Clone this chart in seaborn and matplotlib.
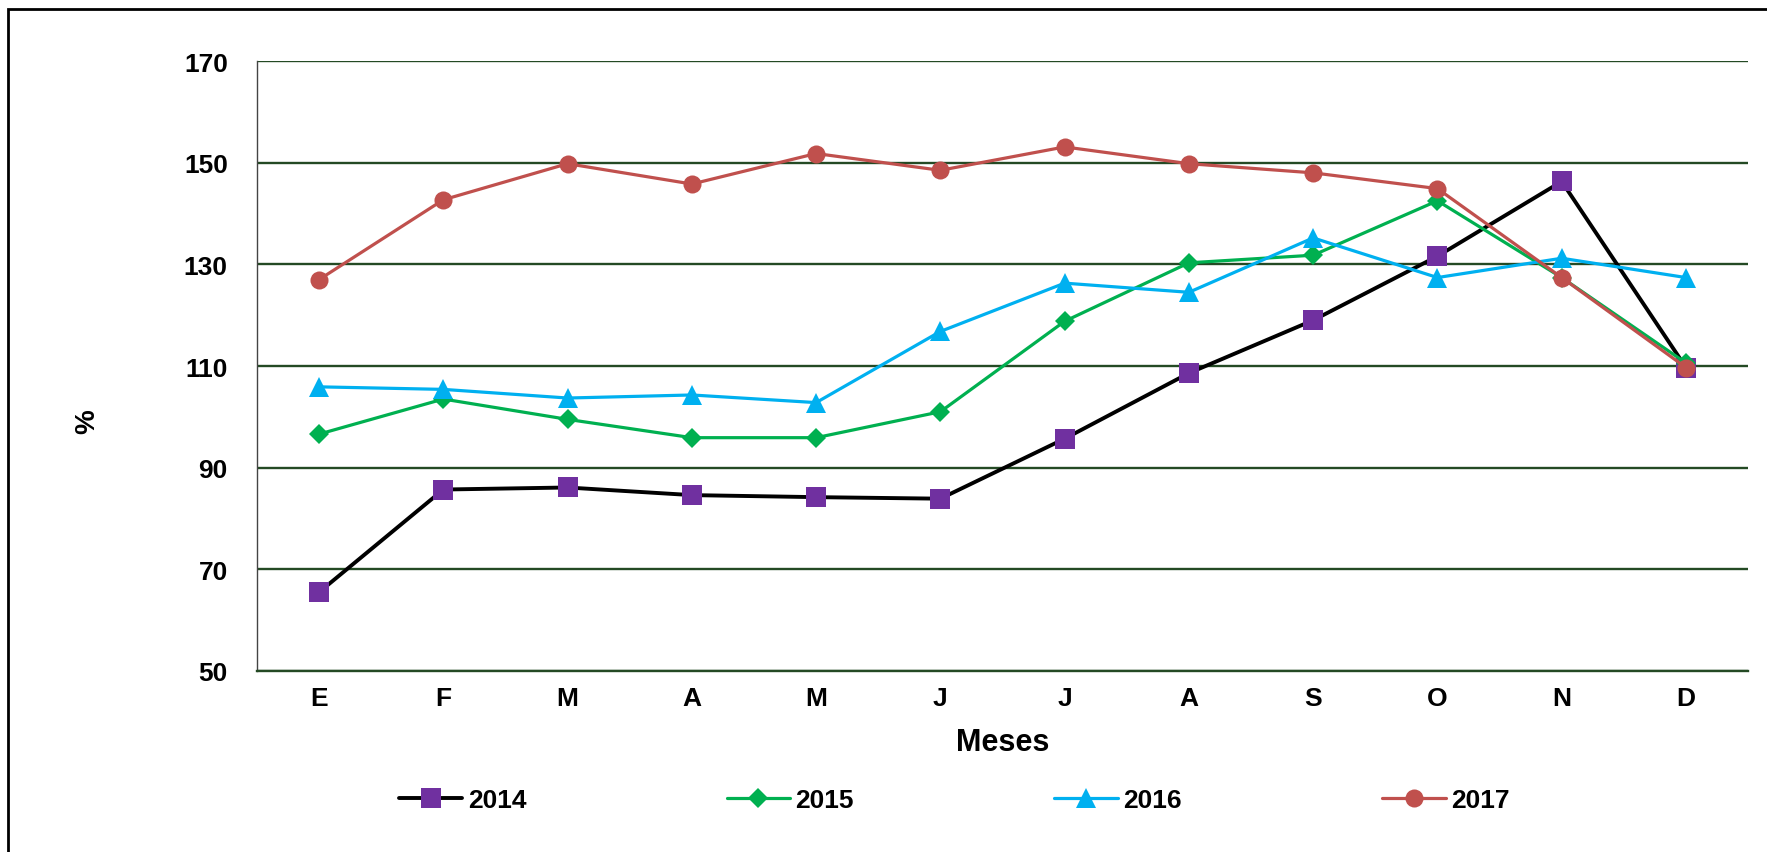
import matplotlib
matplotlib.use("Agg")
import matplotlib.pyplot as plt
import matplotlib.patches as patches
import seaborn as sns
import pandas as pd

# Monthly values (%)
meses = ["E", "F", "M", "A", "M", "J", "J", "A", "S", "O", "N", "D"]
v2014 = [65.5, 85.7, 86.1, 84.6, 84.2, 83.9, 95.7, 108.6, 119.0, 131.6, 146.3, 109.7]
v2015 = [96.6, 103.5, 99.5, 95.9, 95.9, 101.0, 118.8, 130.3, 131.8, 142.5, 127.4, 110.6]
v2016 = [105.9, 105.4, 103.7, 104.3, 102.8, 116.8, 126.3, 124.5, 135.2, 127.4, 131.2, 127.4]
v2017 = [127.0, 142.7, 149.8, 145.8, 151.8, 148.5, 153.1, 149.8, 148.0, 144.9, 127.4, 109.7]
y_ticks = [50, 70, 90, 110, 130, 150, 170]

sns.set_style("white")
plt.rcParams["font.family"] = ["Liberation Sans", "DejaVu Sans"]
plt.rcParams["font.weight"] = "bold"
plt.rcParams["text.color"] = "black"
plt.rcParams["xtick.color"] = "black"
plt.rcParams["ytick.color"] = "black"

fig = plt.figure(figsize=(17.67, 8.53), dpi=100)
ax = fig.add_axes([0.1454, 0.2122, 0.9893 - 0.1454, 0.9273 - 0.2122])

grid_color = "#244a24"
for y in y_ticks:
    ax.axhline(y, color=grid_color, lw=1.7, zorder=1)

series = [
    ("2014", v2014, "black", "#7030A0", "s", 15, 2.8),
    ("2015", v2015, "#00B050", "#00B050", "D", 10, 2.3),
    ("2016", v2016, "#00B0F0", "#00B0F0", "^", 15, 2.3),
    ("2017", v2017, "#C0504D", "#C0504D", "o", 13, 2.3),
]

x_pos = list(range(len(meses)))
for name, vals, lc, mc, mk, ms, lw in series:
    df = pd.DataFrame({"x": x_pos, "y": vals})
    sns.lineplot(data=df, x="x", y="y", ax=ax, color=lc, lw=lw, marker=mk,
                 markersize=ms, markerfacecolor=mc, markeredgecolor=mc,
                 markeredgewidth=0, label=name, zorder=3)

ax.set_xlim(-0.5, 11.5)
ax.set_ylim(50, 170)
ax.set_yticks(y_ticks)
ax.set_xticks(x_pos)
ax.set_xticklabels(meses)
ax.tick_params(axis="y", length=8, width=1, color="#444444", pad=13, labelsize=19,
               labelcolor="black")
ax.tick_params(axis="x", length=0, pad=11, labelsize=19, labelcolor="black")
for lab in ax.get_xticklabels() + ax.get_yticklabels():
    lab.set_fontweight("bold")

for s in ["top", "right"]:
    ax.spines[s].set_visible(False)
ax.spines["left"].set_color("#444444")
ax.spines["left"].set_linewidth(1.0)
ax.spines["bottom"].set_color(grid_color)
ax.spines["bottom"].set_linewidth(1.7)

ax.set_xlabel("Meses", fontsize=22, fontweight="bold", labelpad=12, color="black")
ax.set_ylabel("")
fig.text(87 / 1767, 1 - 422 / 853, "%", rotation=90, fontsize=20,
         fontweight="bold", ha="center", va="center", color="black")

ax.legend(loc="center", bbox_to_anchor=(0.540, 0.061), bbox_transform=fig.transFigure,
          ncol=4, frameon=False, handlelength=2.4, handletextpad=0.2,
          columnspacing=7.6, prop={"weight": "bold", "size": 19})

# outer chart frame (runs off the right and bottom edges)
top = 1 - 10 / 853
fig.patches.append(patches.Rectangle((8 / 1767, -0.1), 1.2, top + 0.1,
                                     transform=fig.transFigure, fill=False,
                                     edgecolor="black", lw=2, clip_on=False))

fig.savefig("out.png", dpi=100)
